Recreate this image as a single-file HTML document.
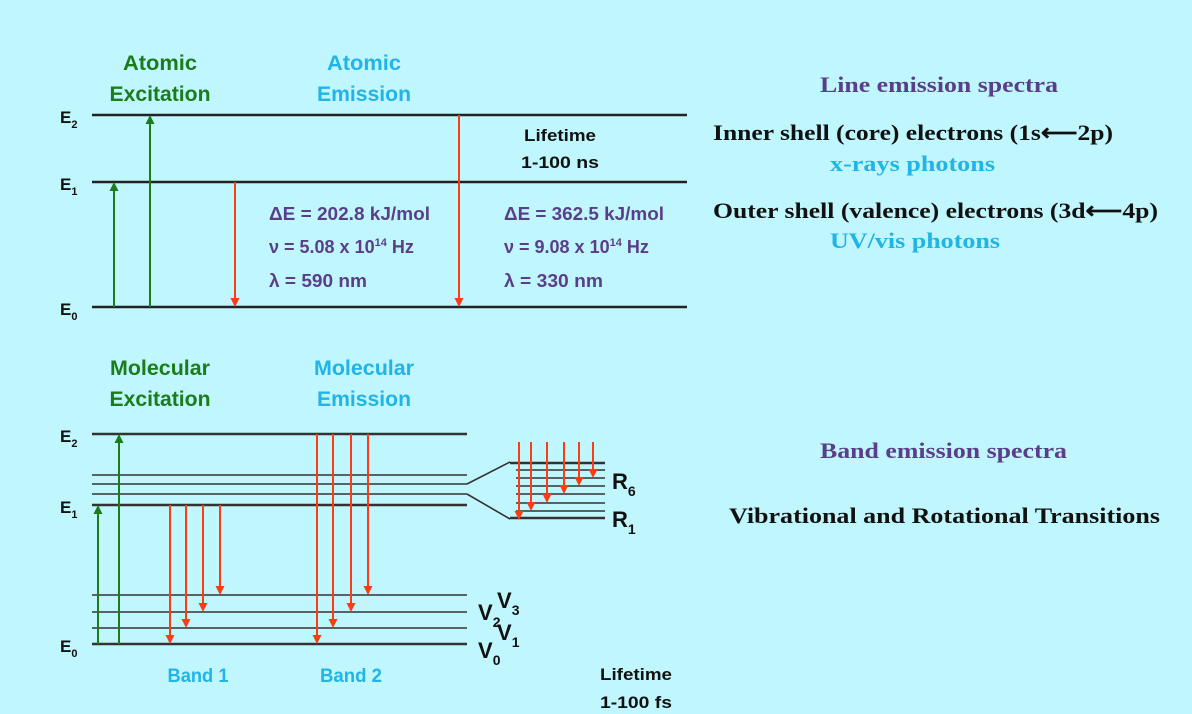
<!DOCTYPE html>
<html><head><meta charset="utf-8"><style>
html,body{margin:0;padding:0;background:#c0f6fd;}
svg{display:block}
.s{font-family:"Liberation Sans",sans-serif;font-weight:bold}
.r{font-family:"Liberation Serif",serif;font-weight:bold}
</style></head><body>
<svg id="d" width="1192" height="714" viewBox="0 0 1192 714" xmlns="http://www.w3.org/2000/svg">
<rect width="1192" height="714" fill="#c0f6fd"/>
<g class="s" font-size="21">
<text x="160" y="70" text-anchor="middle" fill="#1a7d1a" textLength="74" lengthAdjust="spacingAndGlyphs">Atomic</text>
<text x="160" y="101" text-anchor="middle" fill="#1a7d1a" textLength="101" lengthAdjust="spacingAndGlyphs">Excitation</text>
<text x="364" y="70" text-anchor="middle" fill="#20b4e8" textLength="74" lengthAdjust="spacingAndGlyphs">Atomic</text>
<text x="364" y="101" text-anchor="middle" fill="#20b4e8" textLength="94" lengthAdjust="spacingAndGlyphs">Emission</text>
<text x="160" y="375" text-anchor="middle" fill="#1a7d1a" textLength="100" lengthAdjust="spacingAndGlyphs">Molecular</text>
<text x="160" y="406" text-anchor="middle" fill="#1a7d1a" textLength="101" lengthAdjust="spacingAndGlyphs">Excitation</text>
<text x="364" y="375" text-anchor="middle" fill="#20b4e8" textLength="100" lengthAdjust="spacingAndGlyphs">Molecular</text>
<text x="364" y="406" text-anchor="middle" fill="#20b4e8" textLength="94" lengthAdjust="spacingAndGlyphs">Emission</text>
</g>
<g class="s" font-size="17" fill="#111">
<text x="560" y="141" text-anchor="middle" textLength="72" lengthAdjust="spacingAndGlyphs">Lifetime</text>
<text x="560" y="168" text-anchor="middle" textLength="78" lengthAdjust="spacingAndGlyphs">1-100 ns</text>
<text x="636" y="680" text-anchor="middle" textLength="72" lengthAdjust="spacingAndGlyphs">Lifetime</text>
<text x="636" y="708" text-anchor="middle" textLength="72" lengthAdjust="spacingAndGlyphs">1-100 fs</text>
</g>
<g class="s" font-size="18" fill="#5a3e8a">
<text x="269" y="220" textLength="161" lengthAdjust="spacingAndGlyphs">ΔE = 202.8 kJ/mol</text>
<text x="269" y="253">ν = 5.08 x 10<tspan font-size="11" dy="-7">14</tspan><tspan dy="7"> Hz</tspan></text>
<text x="269" y="287" textLength="98" lengthAdjust="spacingAndGlyphs">λ = 590 nm</text>
<text x="504" y="220" textLength="160" lengthAdjust="spacingAndGlyphs">ΔE = 362.5 kJ/mol</text>
<text x="504" y="253">ν = 9.08 x 10<tspan font-size="11" dy="-7">14</tspan><tspan dy="7"> Hz</tspan></text>
<text x="504" y="287" textLength="99" lengthAdjust="spacingAndGlyphs">λ = 330 nm</text>
</g>
<g class="s" font-size="19" fill="#20b4e8">
<text x="198" y="682" text-anchor="middle" textLength="61" lengthAdjust="spacingAndGlyphs">Band 1</text>
<text x="351" y="682" text-anchor="middle" textLength="62" lengthAdjust="spacingAndGlyphs">Band 2</text>
</g>
<g class="r" font-size="22">
<text x="820" y="92" fill="#5a3e8a" textLength="238" lengthAdjust="spacingAndGlyphs">Line emission spectra</text>
<text x="713" y="140" fill="#111" textLength="400" lengthAdjust="spacingAndGlyphs">Inner shell (core) electrons (1s⟵2p)</text>
<text x="830" y="171" fill="#20b4e8" textLength="165" lengthAdjust="spacingAndGlyphs">x-rays photons</text>
<text x="713" y="218" fill="#111" textLength="445" lengthAdjust="spacingAndGlyphs">Outer shell (valence) electrons (3d⟵4p)</text>
<text x="830" y="248" fill="#20b4e8" textLength="170" lengthAdjust="spacingAndGlyphs">UV/vis photons</text>
<text x="820" y="458" fill="#5a3e8a" textLength="247" lengthAdjust="spacingAndGlyphs">Band emission spectra</text>
<text x="729" y="523" fill="#111" textLength="431" lengthAdjust="spacingAndGlyphs">Vibrational and Rotational Transitions</text>
</g>
<g class="s" fill="#111" font-size="17">
<text x="60" y="123">E<tspan font-size="11" dy="5">2</tspan></text>
<text x="60" y="190">E<tspan font-size="11" dy="5">1</tspan></text>
<text x="60" y="315">E<tspan font-size="11" dy="5">0</tspan></text>
<text x="60" y="442">E<tspan font-size="11" dy="5">2</tspan></text>
<text x="60" y="513">E<tspan font-size="11" dy="5">1</tspan></text>
<text x="60" y="652">E<tspan font-size="11" dy="5">0</tspan></text>
</g>
<g class="s" fill="#111" font-size="22">
<text x="612" y="489">R<tspan font-size="14" dy="7">6</tspan></text>
<text x="612" y="527">R<tspan font-size="14" dy="7">1</tspan></text>
<text x="478" y="620">V<tspan font-size="14" dy="7">2</tspan></text>
<text x="497" y="608">V<tspan font-size="14" dy="7">3</tspan></text>
<text x="497" y="640">V<tspan font-size="14" dy="7">1</tspan></text>
<text x="478" y="658">V<tspan font-size="14" dy="7">0</tspan></text>
</g>
<g id="marks"></g>
</svg>
<script>
// level y-positions (px)
const atomicLevels = [115, 182, 307];
const molLevels = [434, 475, 484, 494, 505, 595, 612, 628, 644];
const rotLevels = [463, 470, 478, 486, 494, 503, 511, 518];
// transitions: [x, yStart, yEnd]
const greenX = [114, 150], greenTop = [182, 115], greenBottom = 307;
const redAtomX = [235, 459], redAtomTop = [182, 115];
const molGreenX = [98, 119], molGreenTop = [505, 434];
const band1X = [170, 186, 203, 220], band1End = [644, 628, 612, 595];
const band2X = [317, 333, 351, 368], band2End = [644, 628, 612, 595];
const rotX = [519, 531, 547, 564, 579, 593], rotEnd = [520, 511, 503, 494, 486, 478];

const NS = 'http://www.w3.org/2000/svg';
const g = document.getElementById('marks');
function line(x1,y1,x2,y2,c,w,name){
  const l=document.createElementNS(NS,'line');
  l.setAttribute('x1',x1);l.setAttribute('y1',y1);l.setAttribute('x2',x2);l.setAttribute('y2',y2);
  l.setAttribute('stroke',c);l.setAttribute('stroke-width',w);
  
  
  g.appendChild(l);
}
function arrow(x,y1,y2,c,name){
  const dir = y2>y1?1:-1;
  line(x,y1,x,y2-dir*8,c,2,name);
  const p=document.createElementNS(NS,'polygon');
  p.setAttribute('points',`${x-4.5},${y2-dir*9} ${x+4.5},${y2-dir*9} ${x},${y2}`);
  p.setAttribute('fill',c);
  
  
  g.appendChild(p);
}
atomicLevels.forEach((y,i)=>line(92,y,687,y,'#222',2.5,'atomic-level-'+i));
molLevels.forEach((y,i)=>{const thick=(i===0||i===4||i===8);line(92,y,467,y,'#333',thick?2.6:1.6,'molecular-level-'+i);});
line(467,484,510,462,'#333',1.6,'fan-upper');
line(467,494,510,519,'#333',1.6,'fan-lower');
rotLevels.forEach((y,i)=>{const e=(i===0||i===rotLevels.length-1);line(e?510:516,y,605,y,'#333',e?2.6:1.5,'rotational-level-'+i);});
const G='#1a7d1a', R='#ff3b12';
greenX.forEach((x,i)=>arrow(x,greenBottom,greenTop[i],G,'atomic-excitation-arrow'));
redAtomX.forEach((x,i)=>arrow(x,redAtomTop[i],307,R,'atomic-emission-arrow'));
molGreenX.forEach((x,i)=>arrow(x,644,molGreenTop[i],G,'molecular-excitation-arrow'));
band1X.forEach((x,i)=>arrow(x,505,band1End[i],R,'band1-arrow'));
band2X.forEach((x,i)=>arrow(x,434,band2End[i],R,'band2-arrow'));
rotX.forEach((x,i)=>arrow(x,442,rotEnd[i],R,'rotational-arrow'));
</script>
</body></html>
